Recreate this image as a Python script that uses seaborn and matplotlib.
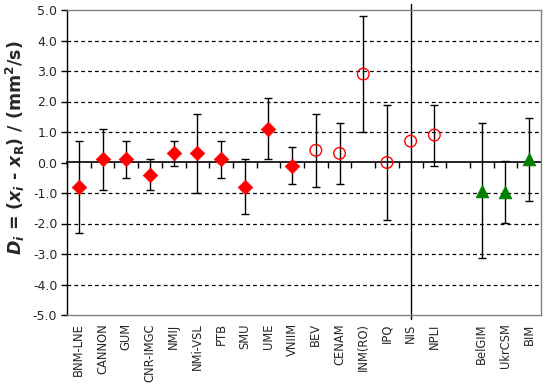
import matplotlib
matplotlib.use("Agg")
import matplotlib.pyplot as plt
import seaborn as sns
import pandas as pd
import numpy as np

# ---- data ----
tick_labels = ["BNM-LNE", "CANNON", "GUM", "CNR-IMGC", "NMIJ", "NMi-VSL", "PTB", "SMU",
               "UME", "VNIIM", "BEV", "CENAM", "INM(RO)", "IPQ", "NIS", "NPLI", "",
               "BelGIM", "UkrCSM", "BIM"]
participants = ["BNM-LNE", "CANNON", "GUM", "CNR-IMGC", "NMIJ", "NMi-VSL", "PTB", "SMU",
                "UME", "VNIIM", "BEV", "CENAM", "INM(RO)", "IPQ", "NIS", "NPLI",
                "BelGIM", "UkrCSM", "BIM"]
deviation = [-0.8, 0.1, 0.1, -0.4, 0.3, 0.3, 0.1, -0.8, 1.1, -0.1,
             0.4, 0.3, 2.9, 0.0, 0.7, 0.9,
             -0.92, -0.96, 0.1]
uncertainty = [1.5, 1.0, 0.6, 0.5, 0.4, 1.3, 0.6, 0.9, 1.0, 0.6,
               1.2, 1.0, 1.9, 1.9, np.nan, 1.0,
               2.2, 1.02, 1.35]
group = ["a"] * 10 + ["b"] * 6 + ["c"] * 3
ref_line_lab = "NIS"
yticks = [-5, -4, -3, -2, -1, 0, 1, 2, 3, 4, 5]

df = pd.DataFrame({"lab": participants, "D": deviation, "U": uncertainty, "grp": group})
df["pos"] = [tick_labels.index(p) for p in participants]

sns.set_style("white")
plt.rcParams["font.family"] = ["DejaVu Sans"]
plt.rcParams["mathtext.fontset"] = "custom"
plt.rcParams["mathtext.it"] = "DejaVu Sans:italic:bold"
plt.rcParams["mathtext.rm"] = "DejaVu Sans:bold"
plt.rcParams["mathtext.bf"] = "DejaVu Sans:bold"

fig = plt.figure(figsize=(5.45, 3.86), dpi=100)
ax = fig.add_axes([67 / 545, 71 / 386, 474 / 545, 305 / 386])

# grid lines (dashed), zero line handled by secondary axis
for v in yticks:
    if v not in (0, 5, -5):
        ax.axhline(v, color="black", lw=0.9, ls=(0, (3, 2.5)), zorder=0)

# error bars
eb = df.dropna(subset=["U"])
ax.errorbar(eb["pos"], eb["D"], yerr=eb["U"], fmt="none", ecolor="black",
            elinewidth=1.0, capsize=3, capthick=1.0, zorder=2)

# vertical line at NIS
ax.axvline(tick_labels.index(ref_line_lab), ymin=-0.013, ymax=1.02, color="black",
           lw=1.0, clip_on=False, zorder=2)

# markers
sns.scatterplot(data=df[df.grp == "a"], x="pos", y="D", marker="D", s=55,
                color="#ff0000", edgecolor="#ff0000", linewidth=0.5, ax=ax, zorder=3, legend=False)
sns.scatterplot(data=df[df.grp == "b"], x="pos", y="D", marker="o", s=70,
                facecolor="none", edgecolor="#ff0000", linewidth=1.0, ax=ax, zorder=3, legend=False)
sns.scatterplot(data=df[df.grp == "c"], x="pos", y="D", marker="^", s=85,
                color="#008000", edgecolor="#008000", linewidth=0.5, ax=ax, zorder=3, legend=False)

ax.set_xlim(-0.5, len(tick_labels) - 0.5)
ax.set_ylim(-5, 5)
ax.set_yticks(yticks)
ax.set_yticklabels([f"{v:.1f}" for v in yticks], fontsize=9)
ax.set_xticks(range(len(tick_labels)))
ax.set_xticklabels(tick_labels, rotation=90, fontsize=8.3)
ax.tick_params(axis="x", length=0, pad=6)
ax.tick_params(axis="y", direction="out", length=4, width=1, color="black", left=True, pad=3)

for s in ["top", "right", "bottom"]:
    ax.spines[s].set_color("#808080")
    ax.spines[s].set_linewidth(1.0)
ax.spines["left"].set_color("black")
ax.spines["left"].set_linewidth(1.0)

# x-axis line at zero with tick marks at category boundaries
sec = ax.secondary_xaxis(0, transform=ax.transData)
sec.set_xticks(np.arange(-0.5, len(tick_labels) - 0.5, 1.0))
sec.set_xticklabels([])
sec.tick_params(axis="x", direction="out", length=4, width=1, color="black")
sec.spines["bottom"].set_color("black")
sec.spines["bottom"].set_linewidth(1.2)

ax.set_xlabel("")
ax.set_ylabel(r"$\mathit{D_i}$ = ($\mathit{x_i}$ - $\mathit{x}_{\mathrm{R}}$) / (mm$^2$/s)",
              fontsize=12.5, fontweight="bold", labelpad=6)
ax.yaxis.set_label_coords(-0.085, 0.55)

fig.savefig("out.png", dpi=100)
